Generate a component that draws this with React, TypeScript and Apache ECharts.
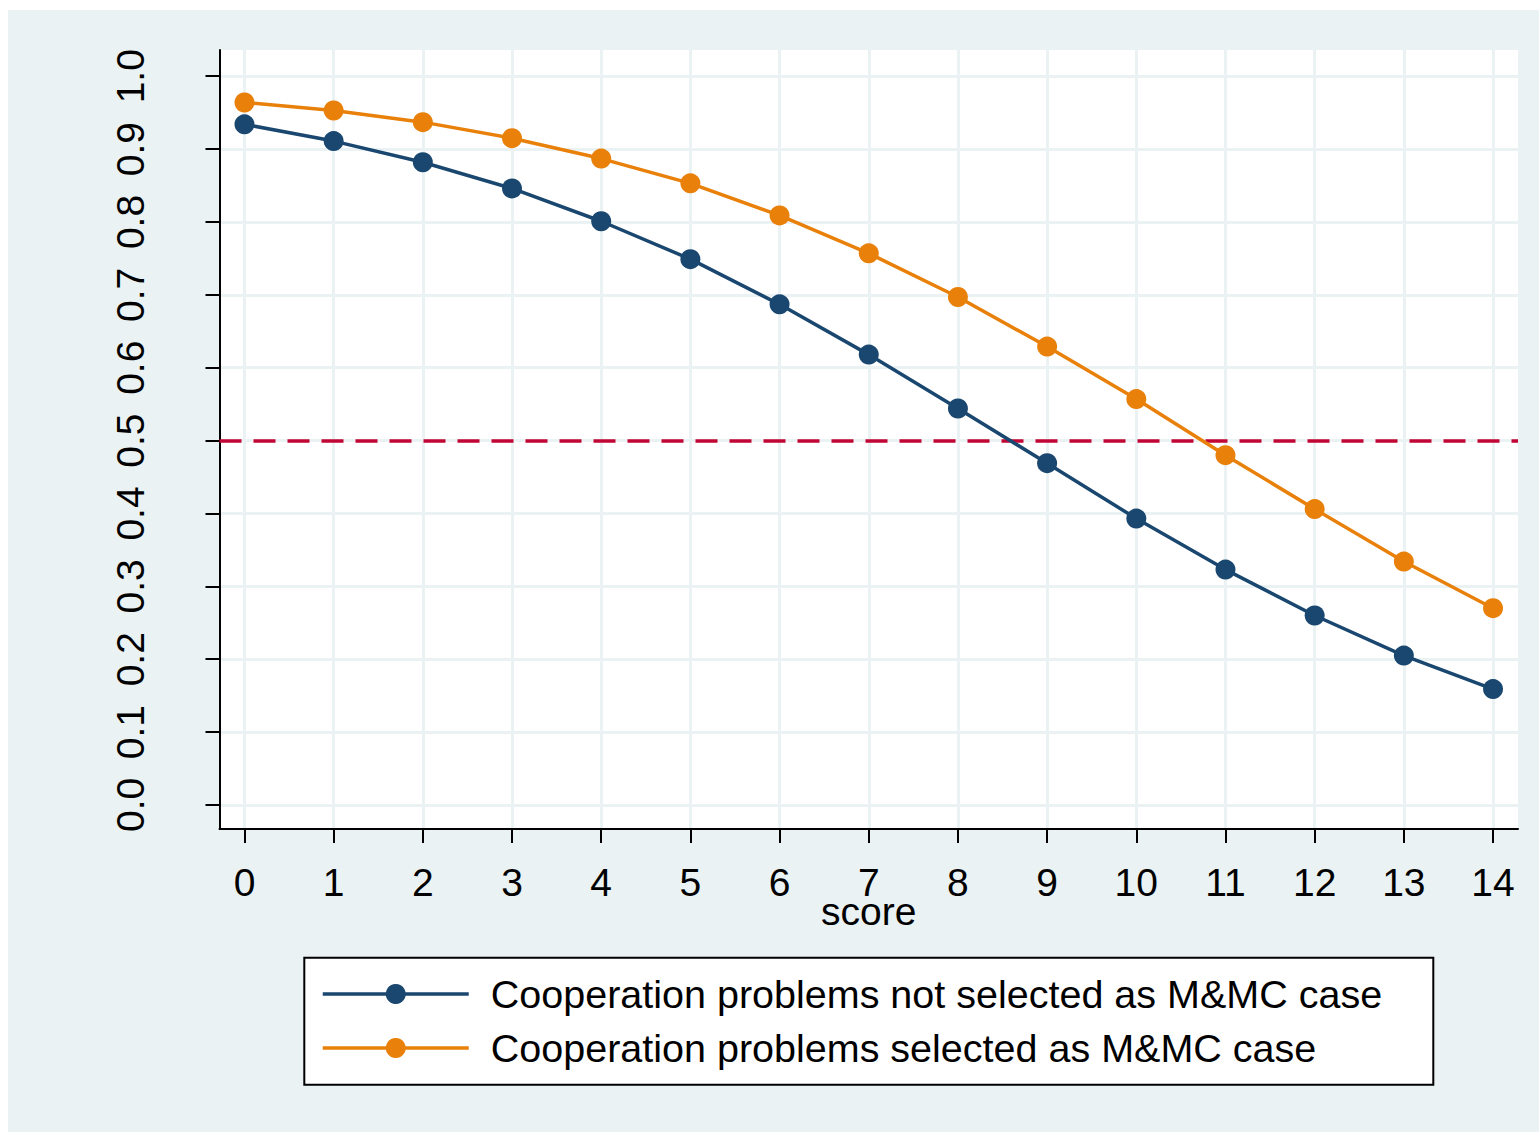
import React, { useEffect, useRef } from "react";
import * as echarts from "echarts";

// Scores on the horizontal axis and their tick labels
const scores = [0, 1, 2, 3, 4, 5, 6, 7, 8, 9, 10, 11, 12, 13, 14];
const yTicks = [0, 0.1, 0.2, 0.3, 0.4, 0.5, 0.6, 0.7, 0.8, 0.9, 1.0];

// Predicted probabilities for each group
const notSelected = [
  0.934, 0.911, 0.882, 0.846, 0.801, 0.749, 0.687, 0.618, 0.544, 0.469, 0.393,
  0.323, 0.26, 0.205, 0.159,
];
const selected = [
  0.964, 0.953, 0.937, 0.915, 0.887, 0.853, 0.809, 0.757, 0.697, 0.629, 0.557,
  0.48, 0.406, 0.334, 0.27,
];
const seriesNames = [
  "Cooperation problems not selected as M&MC case",
  "Cooperation problems selected as M&MC case",
];
const threshold = 0.5;

const FONT = "'Liberation Sans', Arial, Helvetica, sans-serif";
const BG = "#EAF2F3";
const NAVY = "#1A476F";
const ORANGE = "#E8800A";
const CRIMSON = "#C10534";

export default function App() {
  const ref = useRef<HTMLDivElement>(null);

  useEffect(() => {
    if (!ref.current) return;
    const chart = echarts.init(ref.current, undefined, { renderer: "svg" });

    const pairs = (ys: number[]) => scores.map((s, i) => [s, ys[i]]);

    chart.setOption({
      animation: false,
      backgroundColor: BG,
      textStyle: { fontFamily: FONT },
      grid: {
        left: 211.5,
        top: 40,
        right: 21,
        bottom: 303,
        show: true,
        backgroundColor: "#FFFFFF",
        borderWidth: 0,
      },
      xAxis: {
        type: "value",
        min: -0.28,
        max: 14.28,
        name: "score",
        nameLocation: "middle",
        nameGap: 68,
        nameMoveOverlap: false,
        nameTextStyle: { fontSize: 39, color: "#000", fontFamily: FONT, lineHeight: 28 },
        axisLine: { show: true, onZero: false, lineStyle: { color: "#000", width: 2 } },
        axisTick: { show: true, length: 14, customValues: scores, lineStyle: { color: "#000", width: 2 } },
        axisLabel: {
          customValues: scores,
          fontSize: 39,
          lineHeight: 28,
          color: "#000",
          fontFamily: FONT,
          margin: 39,
        },
        splitLine: { show: true, lineStyle: { color: BG, width: 3 } },
      },
      yAxis: {
        type: "value",
        min: -0.033,
        max: 1.036,
        axisLine: { show: true, onZero: false, lineStyle: { color: "#000", width: 2 } },
        axisTick: { show: true, length: 14, customValues: yTicks, lineStyle: { color: "#000", width: 2 } },
        axisLabel: {
          customValues: yTicks,
          rotate: 90,
          fontSize: 39,
          lineHeight: 40,
          color: "#000",
          fontFamily: FONT,
          margin: 69,
          formatter: (v: number) => v.toFixed(1),
        },
        splitLine: { show: true, lineStyle: { color: BG, width: 3 } },
      },
      legend: {
        orient: "vertical",
        left: 313,
        top: 964,
        padding: 0,
        itemGap: 14,
        itemWidth: 146,
        itemHeight: 25,
        data: seriesNames,
        lineStyle: { width: 3.5 },
        textStyle: {
          fontSize: 39.5,
          lineHeight: 40,
          color: "#000",
          fontFamily: FONT,
          padding: [0, 0, 0, 17],
        },
      },
      graphic: [
        {
          type: "rect",
          left: 295.3,
          top: 946.7,
          z: -1,
          shape: { width: 1129, height: 127 },
          style: { fill: "#FFFFFF", stroke: "#000", lineWidth: 2 },
          silent: true,
        },
      ],
      series: [
        {
          name: seriesNames[0],
          type: "line",
          data: pairs(notSelected),
          symbol: "circle",
          symbolSize: 20,
          color: NAVY,
          lineStyle: { color: NAVY, width: 3.5 },
          itemStyle: { color: NAVY },
          z: 3,
          markLine: {
            silent: true,
            z: 1,
            symbol: ["none", "none"],
            label: { show: false },
            lineStyle: { color: CRIMSON, width: 3.5, type: [22, 12], opacity: 1 },
            emphasis: { disabled: true },
            data: [{ yAxis: threshold }],
          },
        },
        {
          name: seriesNames[1],
          type: "line",
          data: pairs(selected),
          symbol: "circle",
          symbolSize: 20,
          color: ORANGE,
          lineStyle: { color: ORANGE, width: 3.5 },
          itemStyle: { color: ORANGE },
          z: 3,
        },
      ],
    });

    return () => chart.dispose();
  }, []);

  return (
    <div
      ref={ref}
      style={{ position: "absolute", left: 8, top: 10, width: 1531, height: 1122 }}
    />
  );
}
